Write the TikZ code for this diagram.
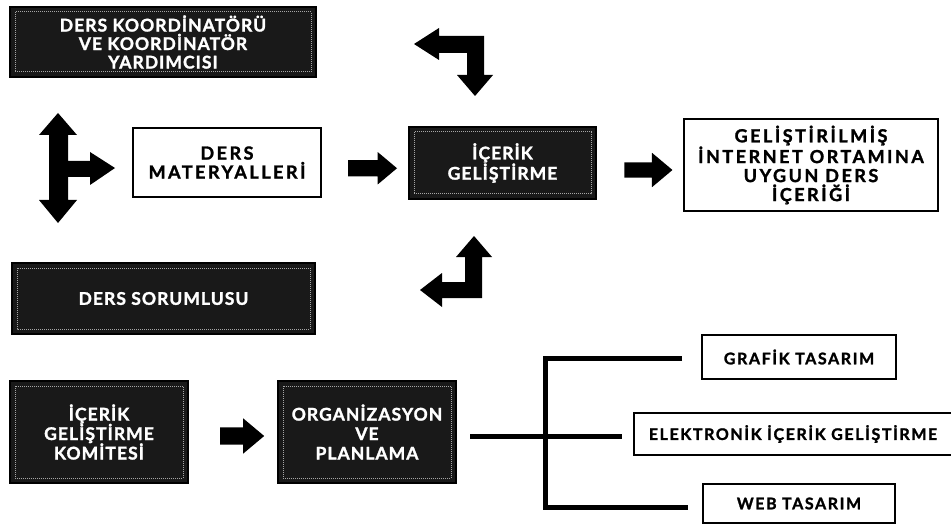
\documentclass[tikz,border=0pt]{standalone}
\usepackage{fontspec}
\newfontfamily\lab{Lato}[LetterSpace=6, BoldFeatures={FakeBold=1.5}]
\newfontfamily\labw{Lato}[LetterSpace=14, BoldFeatures={FakeBold=1.5}]
\newfontfamily\labs{Lato}[LetterSpace=10, BoldFeatures={FakeBold=1.5}]
\usetikzlibrary{shapes.arrows,calc}
\newcommand\bigtxt{\lab\bfseries\fontsize{17.5}{18.5}\selectfont}
\newcommand\komtxt{\lab\bfseries\fontsize{17.5}{19.5}\selectfont}
\newcommand\widetxt{\labw\bfseries\fontsize{18}{19}\selectfont}
\newcommand\smalltxt{\labs\bfseries\fontsize{16}{17}\selectfont}
\tikzset{
  whitebox/.style={draw=black, line width=2pt, fill=white, align=center, inner sep=0pt, font=\widetxt},
  darkbox/.style={draw=black, line width=1.5pt, fill=black!90, text=white, align=center, inner sep=0pt, font=\bigtxt,
    path picture={\draw[gray!70, line width=1pt, densely dotted]
      ([shift={(5pt,-5pt)}]path picture bounding box.north west) rectangle
      ([shift={(-5pt,5pt)}]path picture bounding box.south east);}},
  blockarrow/.style={single arrow, fill=black, draw=none, inner xsep=0pt, inner ysep=8pt, single arrow tip angle=80},
  blockshape/.style={fill=black},
  tree/.style={line width=5pt, line join=miter}
}
\begin{document}
\begin{tikzpicture}[x=1pt,y=-1pt]
\useasboundingbox (0,0) rectangle (951,524);
% boxes
\node[darkbox, minimum width=306pt, minimum height=70pt] (koord) at (163,42) {DERS KOORDİNATÖRÜ\\VE KOORDİNATÖR\\YARDIMCISI};
\node[whitebox, minimum width=188pt, minimum height=69pt] (mat) at (227,162.5) {DERS\\MATERYALLERİ};
\node[darkbox, minimum width=187pt, minimum height=72pt] (icerik) at (502.5,163) {İÇERİK\\GELİŞTİRME};
\node[whitebox, minimum width=254pt, minimum height=92pt] (gel) at (811,165) {GELİŞTİRİLMİŞ\\İNTERNET ORTAMINA\\UYGUN DERS\\İÇERİĞİ};
\node[darkbox, minimum width=303pt, minimum height=71pt] (sor) at (163.5,298.5) {DERS SORUMLUSU};
\node[darkbox, font=\komtxt, minimum width=178pt, minimum height=102pt] (kom) at (99,432) {İÇERİK\\GELİŞTİRME\\KOMİTESİ};
\node[darkbox, font=\komtxt, minimum width=178pt, minimum height=102pt] (org) at (367,432) {ORGANİZASYON\\VE\\PLANLAMA};
\node[whitebox, font=\smalltxt, minimum width=194pt, minimum height=44pt] (graf) at (799,357) {GRAFİK TASARIM};
\node[whitebox, font=\smalltxt, minimum width=318pt, minimum height=42pt] (elek) at (793,434) {ELEKTRONİK İÇERİK GELİŞTİRME};
\node[whitebox, font=\smalltxt, minimum width=192pt, minimum height=39pt] (web) at (799,503.5) {WEB TASARIM};
% straight block arrows
\node[blockarrow, minimum height=49pt, single arrow head extend=8pt] (a1) at ($(mat.east)!0.5!(icerik.west)+(2.5,5.5)$) {};
\node[blockarrow, minimum height=48pt, inner ysep=7.5pt, single arrow head extend=9.5pt] (a2) at ($(icerik.east)!0.5!(gel.west)+(4,6)$) {};
\node[blockarrow, minimum height=44pt, inner ysep=8.5pt, single arrow head extend=9pt] (a3) at ($(kom.east)!0.5!(org.west)+(4,4)$) {};
% T-shaped arrow at the left
\fill[blockshape] (58,113) -- (77,135) -- (68,135) -- (68,161) -- (90,161) -- (90,152) -- (115,168)
  -- (90,185) -- (90,177) -- (68,177) -- (68,200) -- (77,200) -- (58,223) -- (39,200) -- (49,200)
  -- (49,135) -- (39,135) -- cycle;
% top L arrow
\fill[blockshape] (414,44) -- (439,28) -- (439,36) -- (484,36) -- (484,75) -- (493,75) -- (475,96)
  -- (457,75) -- (467,75) -- (467,53) -- (439,53) -- (439,60) -- cycle;
% bottom L arrow
\fill[blockshape] (474,236) -- (492,257) -- (482,257) -- (482,298) -- (442,298) -- (442,307)
  -- (420,290) -- (442,273) -- (442,282) -- (465,282) -- (465,257) -- (456,257) -- cycle;
% tree connectors
\coordinate (ts) at (470,436);
\coordinate (te) at (622,436);
\coordinate (jt) at (545,358);
\coordinate (jb) at (545,507);
\coordinate (ge) at (682,358);
\coordinate (we) at (688,507);
\draw[tree] (ts) -- (te);
\draw[tree] (ge) -- (jt) -- (jb) -- (we);
\end{tikzpicture}
\end{document}
